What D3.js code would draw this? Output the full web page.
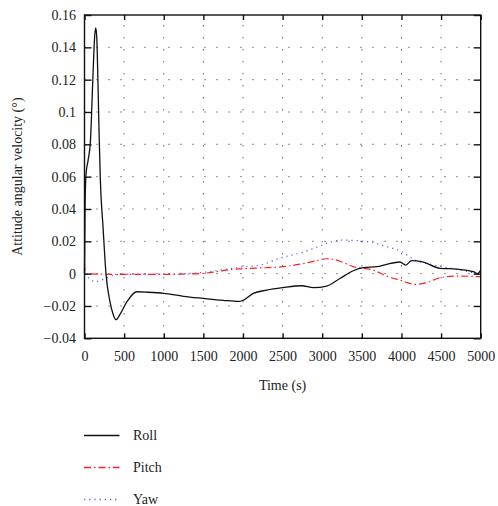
<!DOCTYPE html>
<html>
<head>
<meta charset="utf-8">
<script src="https://cdn.jsdelivr.net/npm/d3@7/dist/d3.min.js"></script>
<style>
  html, body { margin: 0; padding: 0; background: #fff; }
  svg { display: block; }
  text { font-family: "Liberation Serif", "DejaVu Serif", serif; fill: #222; }
</style>
</head>
<body>
<svg id="chart" width="498" height="506"></svg>
<script>
// ---- data ----
const xTicks = [0, 500, 1000, 1500, 2000, 2500, 3000, 3500, 4000, 4500, 5000];
const yTicks = [-0.04, -0.02, 0, 0.02, 0.04, 0.06, 0.08, 0.1, 0.12, 0.14, 0.16];
const yTickLabels = ["\u22120.04", "\u22120.02", "0", "0.02", "0.04", "0.06", "0.08", "0.1", "0.12", "0.14", "0.16"];
const seriesNames = ["Roll", "Pitch", "Yaw"];

const rollT = [0, 8, 20, 45, 75, 105, 130, 142, 155, 170, 185, 200, 235, 271, 320, 360, 398, 450, 540, 660, 800, 1000, 1250, 1500, 1750, 1950, 2000, 2130, 2300, 2500, 2740, 2890, 3056, 3224, 3392, 3520, 3690, 3813, 3981, 4053, 4129, 4255, 4486, 4697, 4907, 4957, 5000];
const rollV = [0, 0.045, 0.062, 0.07, 0.082, 0.12, 0.148, 0.152, 0.146, 0.118, 0.085, 0.058, 0.028, 0, -0.017, -0.025, -0.0285, -0.025, -0.017, -0.0112, -0.0115, -0.0122, -0.014, -0.0153, -0.0165, -0.0172, -0.0165, -0.0122, -0.0102, -0.0087, -0.0075, -0.0087, -0.0077, -0.003, 0.0018, 0.0037, 0.0043, 0.0058, 0.0072, 0.0053, 0.008, 0.0074, 0.0033, 0.0028, 0.0012, 0, 0.0022];

const pitchT = [0, 10, 25, 200, 500, 800, 1000, 1250, 1500, 1667, 1875, 2000, 2250, 2500, 2741, 2900, 3056, 3140, 3250, 3392, 3645, 3813, 3981, 4170, 4317, 4486, 4697, 4990];
const pitchV = [0.006, 0.001, 0, -0.0003, -0.0005, -0.0004, -0.0005, -0.0003, 0.0002, 0.0012, 0.0027, 0.003, 0.0036, 0.0043, 0.006, 0.0077, 0.0092, 0.0089, 0.0072, 0.0043, 0.0022, -0.0015, -0.004, -0.0066, -0.0056, -0.0025, -0.0015, -0.0019];

const yawT = [0, 60, 133, 240, 370, 500, 800, 1000, 1250, 1500, 1750, 1965, 2217, 2500, 2741, 2930, 3056, 3266, 3434, 3645, 3813, 4003, 4150, 4402, 4697, 4949];
const yawV = [0, -0.003, -0.005, -0.0035, -0.001, -0.0003, -0.0004, -0.0002, 0, 0.0008, 0.0025, 0.004, 0.0053, 0.0101, 0.013, 0.0163, 0.0188, 0.0208, 0.0204, 0.0191, 0.0167, 0.0136, 0.0089, 0.0053, 0.0027, 0];

// ---- layout ----
const svg = d3.select("#chart");
const L = 84.5, R = 480.7, T = 15, B = 338.3;
const x = d3.scaleLinear().domain([0, 5000]).range([L, R]);
const y = d3.scaleLinear().domain([-0.04, 0.16]).range([B, T]);
const FONT = "'Liberation Serif', 'DejaVu Serif', serif";

// grid
const grid = svg.append("g");
grid.selectAll("line.h").data(yTicks.slice(1, -1)).enter().append("line")
  .attr("x1", L).attr("x2", R).attr("y1", d => y(d)).attr("y2", d => y(d))
  .attr("stroke", "#222").attr("stroke-width", 1).attr("stroke-dasharray", "1,11");
grid.selectAll("line.v").data(xTicks.slice(1, -1)).enter().append("line")
  .attr("y1", B).attr("y2", T).attr("x1", d => x(d)).attr("x2", d => x(d))
  .attr("stroke", "#222").attr("stroke-width", 1).attr("stroke-dasharray", "1,11");

// series
const line = d3.line().x(d => x(d[0])).y(d => y(d[1])).curve(d3.curveMonotoneX);
const zip = (a, b) => a.map((v, i) => [v, b[i]]);
const styles = [
  { t: rollT, v: rollV, color: "#111", dash: null, w: 1.3 },
  { t: pitchT, v: pitchV, color: "#ff2020", dash: "7,3,1.5,3", w: 1.2 },
  { t: yawT, v: yawV, color: "#5555ff", dash: "1.2,4", w: 1.2 }
];
[2, 1, 0].forEach(i => {
  const s = styles[i];
  svg.append("path").datum(zip(s.t, s.v)).attr("d", line)
    .attr("fill", "none").attr("stroke", s.color).attr("stroke-width", s.w)
    .attr("stroke-dasharray", s.dash);
});

// frame
svg.append("rect").attr("x", L).attr("y", T).attr("width", R - L).attr("height", B - T)
  .attr("fill", "none").attr("stroke", "#111").attr("stroke-width", 1.4);

function styleAxis(g) {
  g.attr("font-family", null).attr("font-size", null);
  g.select(".domain").remove();
  g.selectAll(".tick line").attr("stroke", "#111").attr("stroke-width", 1.4);
  g.selectAll(".tick text").attr("font-size", 14).attr("font-family", FONT).attr("fill", "#222");
}

const gxb = svg.append("g").attr("transform", `translate(0,${B})`)
  .call(d3.axisBottom(x).tickValues(xTicks).tickSize(-5).tickFormat(d => d));
styleAxis(gxb);
gxb.selectAll(".tick text").attr("y", 13);

const gxt = svg.append("g").attr("transform", `translate(0,${T})`)
  .call(d3.axisTop(x).tickValues(xTicks).tickSize(-5).tickFormat(""));
styleAxis(gxt);

const gyl = svg.append("g").attr("transform", `translate(${L},0)`)
  .call(d3.axisLeft(y).tickValues(yTicks).tickSize(-7).tickFormat((d, i) => yTickLabels[i]));
styleAxis(gyl);
gyl.selectAll(".tick text").attr("x", -8.5);

const gyr = svg.append("g").attr("transform", `translate(${R},0)`)
  .call(d3.axisRight(y).tickValues(yTicks).tickSize(-7).tickFormat(""));
styleAxis(gyr);

// axis titles
svg.append("text").attr("x", (L + R) / 2).attr("y", 390).attr("text-anchor", "middle")
  .attr("font-size", 14).attr("font-family", FONT).text("Time (s)");
svg.append("text").attr("transform", `translate(22,${(T + B) / 2}) rotate(-90)`)
  .attr("text-anchor", "middle").attr("font-size", 14).attr("font-family", FONT)
  .text("Attitude angular velocity (\u00b0)");

// legend
const legY = [435, 467, 499];
const legW = [1.3, 1.6, 1.6];
seriesNames.forEach((name, i) => {
  const s = styles[i];
  svg.append("line").attr("x1", 84).attr("x2", 119.5).attr("y1", legY[i] + 0.5).attr("y2", legY[i] + 0.5)
    .attr("stroke", s.color).attr("stroke-width", legW[i]).attr("stroke-dasharray", s.dash);
  svg.append("text").attr("x", 133).attr("y", legY[i] + 5).attr("font-size", 14)
    .attr("font-family", FONT).text(name);
});
</script>
</body>
</html>
